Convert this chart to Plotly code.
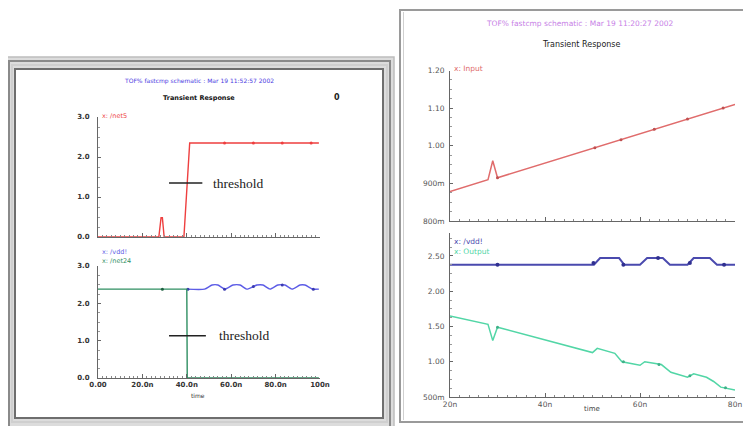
import plotly.graph_objects as go

W, H = 751, 426

# ---------------- data ----------------
# Left panel, top subplot: /net5
net5_t = [0, 27.4, 28.4, 29.0, 29.8, 38.7, 41.3, 99.5]
net5_v = [0, 0, 0.48, 0.48, 0, 0, 2.35, 2.35]
net5_mk_t = [57, 70, 83, 96]
net5_mk_v = [2.35, 2.35, 2.35, 2.35]

# Left panel, bottom subplot: /vdd! and /net24
vddL_t = [40, 48, 51.4, 54, 57.2, 60.8, 64, 67, 71.6, 74.3, 77.5, 81, 84.2, 87.4, 91, 93.2, 96.8, 99.5]
vddL_v = [2.38, 2.38, 2.49, 2.49, 2.38, 2.49, 2.49, 2.38, 2.49, 2.49, 2.38, 2.49, 2.49, 2.38, 2.49, 2.49, 2.38, 2.38]
vddL_mk_t = [40.5, 57, 70, 83, 97]
vddL_mk_v = [2.38, 2.38, 2.45, 2.49, 2.38]
net24_t = [0, 40, 40.2, 99.5]
net24_v = [2.38, 2.38, 0, 0]
net24_mk_t = [29]
net24_mk_v = [2.38]

# Threshold markers (left panel)
thr_top_t = [32, 47]
thr_top_v = [1.35, 1.35]
thr_bot_t = [32, 48.6]
thr_bot_v = [1.13, 1.13]

# Right panel, top subplot: Input
in_t = [20, 28, 29, 30, 80]
in_v = [0.878, 0.91, 0.96, 0.915, 1.11]
in_mk_t = [30, 50.5, 56, 63, 70, 77.5]
in_mk_v = [0.915, 0.995, 1.016, 1.044, 1.071, 1.10]

# Right panel, bottom subplot: /vdd! and Output
vddR_t = [20, 50.3, 51.6, 55.6, 56.7, 60, 61.5, 64.8, 66.3, 70, 71.3, 74.7, 76.2, 80]
vddR_v = [2.375, 2.375, 2.47, 2.47, 2.375, 2.375, 2.47, 2.47, 2.375, 2.375, 2.47, 2.47, 2.375, 2.375]
vddR_mk_t = [30, 50.2, 56.5, 63.8, 70.5, 77.7]
vddR_mk_v = [2.375, 2.40, 2.375, 2.47, 2.40, 2.375]
out_t = [20, 28, 29, 30, 50, 51, 54.7, 56.2, 60, 61, 64.5, 66.5, 70, 71.3, 74, 75.5, 77, 80]
out_v = [1.65, 1.53, 1.30, 1.49, 1.13, 1.19, 1.12, 1.00, 0.95, 1.00, 0.96, 0.85, 0.78, 0.83, 0.78, 0.72, 0.64, 0.60]
out_mk_t = [30, 56.5, 64, 70.5, 78]
out_mk_v = [1.49, 1.00, 0.96, 0.80, 0.63]

# Tick labels
left_x_ticks = [0, 20, 40, 60, 80, 100]
left_x_labels = ["0.00", "20.0n", "40.0n", "60.0n", "80.0n", "100n"]
left_y_ticks = [0, 1, 2, 3]
left_y_labels = ["0.0", "1.0", "2.0", "3.0"]
right_x_ticks = [20, 40, 60, 80]
right_x_labels = ["20n", "40n", "60n", "80n"]
rt_y_ticks = [0.8, 0.9, 1.0, 1.1, 1.2]
rt_y_labels = ["800m", "900m", "1.00", "1.10", "1.20"]
rb_y_ticks = [0.5, 1.0, 1.5, 2.0, 2.5]
rb_y_labels = ["500m", "1.00", "1.50", "2.00", "2.50"]

# ---------------- helpers ----------------
OFF = 8  # the page body offsets the figure by 8px; place things in window pixels

def px(x):
    return (x - OFF) / W

def py(y):
    return 1 - (y - OFF) / H

C_RED_L = "#ee3f3f"
C_BLUE_L = "#5c5ce6"
C_GREEN_L = "#2f8f62"
C_RED_R = "#e06c6c"
C_BLUE_R = "#4a4aae"
C_GREEN_R = "#52d6a6"

fig = go.Figure()

def line(t, v, color, width, xa, ya, shape="linear"):
    fig.add_trace(go.Scatter(x=t, y=v, mode="lines", xaxis=xa, yaxis=ya,
                             line=dict(color=color, width=width, shape=shape,
                                       smoothing=0.6 if shape == "spline" else None),
                             hoverinfo="skip", showlegend=False))

def marks(t, v, color, xa, ya, size=4):
    fig.add_trace(go.Scatter(x=t, y=v, mode="markers", xaxis=xa, yaxis=ya,
                             marker=dict(color=color, size=size, symbol="circle"),
                             hoverinfo="skip", showlegend=False))

# left top
line(net5_t, net5_v, C_RED_L, 1.4, "x", "y")
marks(net5_mk_t, net5_mk_v, C_RED_L, "x", "y", 3)
line(thr_top_t, thr_top_v, "#222222", 1.4, "x", "y")
# left bottom
line(vddL_t, vddL_v, C_BLUE_L, 1.4, "x2", "y2", "spline")
marks(vddL_mk_t, vddL_mk_v, "#3a3ab0", "x2", "y2", 3)
line(net24_t, net24_v, C_GREEN_L, 1.4, "x2", "y2")
marks(net24_mk_t, net24_mk_v, "#1f6040", "x2", "y2", 3)
line(thr_bot_t, thr_bot_v, "#222222", 1.4, "x2", "y2")
# right top
line(in_t, in_v, C_RED_R, 1.5, "x3", "y3")
marks(in_mk_t, in_mk_v, "#c05050", "x3", "y3", 3)
# right bottom
line(out_t, out_v, C_GREEN_R, 1.5, "x4", "y4")
marks(out_mk_t, out_mk_v, "#3fb088", "x4", "y4", 3)
line(vddR_t, vddR_v, C_BLUE_R, 2.0, "x4", "y4")
marks(vddR_mk_t, vddR_mk_v, "#303090", "x4", "y4", 4)

tickfont_L = dict(family="DejaVu Sans", size=7, color="#333333", weight=700)
tickfont_R = dict(family="DejaVu Sans", size=7.5, color="#555555")

def xaxis(domain, rng, anchor, tv, tt, showlabels, font):
    return dict(domain=domain, range=rng, anchor=anchor, showgrid=False, zeroline=False,
                showline=True, linecolor="#666666", linewidth=1, automargin=False,
                tickmode="array", tickvals=tv, ticktext=tt if showlabels else [""] * len(tv),
                ticks="inside", ticklen=4, tickcolor="#666666", tickfont=font,
                minor=dict(ticks="inside", ticklen=2, dtick=2, tickcolor="#888888"),
                fixedrange=True)

def yaxis(domain, rng, anchor, tv, tt, font, standoff, minor_dtick):
    return dict(domain=domain, range=rng, anchor=anchor, showgrid=False, zeroline=False,
                showline=True, linecolor="#666666", linewidth=1, automargin=False,
                tickmode="array", tickvals=tv, ticktext=tt,
                ticks="inside", ticklen=3, tickcolor="#666666", tickfont=font,
                ticklabelstandoff=standoff,
                minor=dict(ticks="inside", ticklen=1.5, dtick=minor_dtick, tickcolor="#999999"),
                fixedrange=True)

xL = [px(98), px(320)]
xR = [px(450), px(735)]

layout = dict(
    width=W, height=H, margin=dict(l=0, r=0, t=0, b=0, pad=0, autoexpand=False),
    paper_bgcolor="white", plot_bgcolor="rgba(0,0,0,0)", showlegend=False,
    xaxis=xaxis(xL, [0, 100], "y", left_x_ticks, left_x_labels, False, tickfont_L),
    yaxis=yaxis([py(237), py(117)], [0, 3], "x", left_y_ticks, left_y_labels, tickfont_L, 6, 0.25),
    xaxis2=xaxis(xL, [0, 100], "y2", left_x_ticks, left_x_labels, True, tickfont_L),
    yaxis2=yaxis([py(378), py(266)], [0, 3], "x2", left_y_ticks, left_y_labels, tickfont_L, 6, 0.25),
    xaxis3=xaxis(xR, [20, 80], "y3", right_x_ticks, right_x_labels, False, tickfont_R),
    yaxis3=yaxis([py(221), py(70.5)], [0.8, 1.2], "x3", rt_y_ticks, rt_y_labels, tickfont_R, 3, 0.025),
    xaxis4=xaxis(xR, [20, 80], "y4", right_x_ticks, right_x_labels, True, tickfont_R),
    yaxis4=yaxis([py(397), py(233)], [0.5, 2.826], "x4", rb_y_ticks, rb_y_labels, tickfont_R, 3, 0.125),
)
fig.update_layout(**layout)

# ---------------- frames ----------------
def rect(x0, y0, x1, y1, lc, lw, fill="rgba(0,0,0,0)"):
    fig.add_shape(type="rect", xref="paper", yref="paper",
                  x0=px(x0), x1=px(x1), y0=py(y1), y1=py(y0),
                  line=dict(color=lc, width=lw), fillcolor=fill, layer="below")

# left window (beveled)
rect(5, 57, 394, 440, "#bdbdbd", 1.5, "#dcdcdc")
rect(9, 61, 390, 440, "#8a8a8a", 2)
rect(12, 65, 387, 422, "#cfcfcf", 2)
rect(15, 69, 383, 418, "#6e6e6e", 2, "white")
# right window
rect(400, 10, 770, 422, "#9a9a9a", 2, "white")
fig.add_shape(type="line", xref="paper", yref="paper", x0=px(403.5), x1=px(403.5),
              y0=py(420), y1=py(12), line=dict(color="#d0d0d0", width=1), layer="below")

# ---------------- text ----------------
def text(x, y, s, size, color, xanchor="center", family="DejaVu Sans", weight=None):
    f = dict(family=family, size=size, color=color)
    if weight:
        f["weight"] = weight
    fig.add_annotation(xref="paper", yref="paper", x=px(x), y=py(y), text=s, showarrow=False,
                       xanchor=xanchor, yanchor="middle", font=f)

text(199, 81, "TOF% fastcmp schematic : Mar 19 11:52:57 2002", 6, "#4a3adf")
text(199, 98, "Transient Response", 6.5, "#111111", weight=700)
text(337, 98, "0", 8, "#222222", weight=700)
text(100, 116, "x: /net5", 6.5, C_RED_L, "left")
text(100, 252, "x: /vdd!", 6.5, C_BLUE_L, "left")
text(100, 261, "x: /net24", 6.5, C_GREEN_L, "left")
text(198, 395, "time", 6, "#333333")

text(580, 24, "TOF% fastcmp schematic : Mar 19 11:20:27 2002", 7.5, "#c77fe6")
text(581, 44, "Transient Response", 8, "#222222")
text(452, 68, "x: Input", 7.5, C_RED_R, "left")
text(452, 241, "x: /vdd!", 7.5, C_BLUE_R, "left")
text(452, 251, "x: Output", 7.5, C_GREEN_R, "left")
text(592, 409, "time", 7, "#444444")

# threshold labels (data coordinates)
fig.add_annotation(xref="x", yref="y", x=51.0, y=thr_top_v[0], text="threshold", showarrow=False,
                   xanchor="left", yanchor="middle",
                   font=dict(family="Liberation Serif", size=13.5, color="#222222"))
fig.add_annotation(xref="x2", yref="y2", x=53.5, y=thr_bot_v[0], text="threshold", showarrow=False,
                   xanchor="left", yanchor="middle",
                   font=dict(family="Liberation Serif", size=13.5, color="#222222"))

fig.write_html("out.html")
